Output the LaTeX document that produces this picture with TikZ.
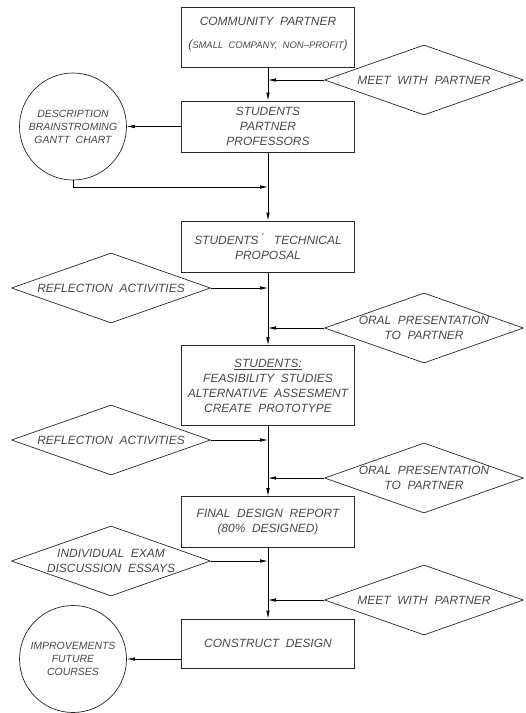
\documentclass[tikz,border=0pt]{standalone}
\usepackage{fontspec}
\setmainfont{Liberation Sans}
\usetikzlibrary{arrows.meta,shapes.geometric}
\begin{document}
\begin{tikzpicture}[x=1bp,y=-1bp,
  txt/.style={font=\itshape\fontsize{12}{15}\selectfont, text=black!72, align=center, inner sep=0pt},
  stxt/.style={font=\itshape\fontsize{10.5}{13}\selectfont, text=black!72, align=center, inner sep=0pt},
  box/.style={draw=black!85, line width=0.7pt, rectangle, minimum width=173bp, inner sep=0pt},
  dia/.style={draw=black!85, line width=0.7pt, diamond, minimum width=199bp, minimum height=70bp, inner sep=0pt},
  circ/.style={draw=black!85, line width=0.7pt, circle, minimum size=107bp, inner sep=0pt},
  ln/.style={draw=black, line width=0.7pt},
  arr/.style={ln, -{Latex[length=8bp,width=3.5bp]}}
]
\useasboundingbox (0,0) rectangle (526,713);
% boxes
\node[box, minimum height=60bp] (b1) at (268,37.5) {};
\node[txt, anchor=center] (b1t) at (268,21) {COMMUNITY\ \ PARTNER};
\node[txt, anchor=center] (b1s) at (268,45) {(\fontsize{9.5}{12}\selectfont SMALL\ \ COMPANY,\ \ NON--PROFIT\fontsize{12}{15}\selectfont)};
\node[box, minimum height=51bp] (b2) at (268,126.5) {};
\node[txt] (b2t) at (b2) {STUDENTS\\PARTNER\\PROFESSORS};
\node[box, minimum height=51bp] (b3) at (268,246.5) {};
\node[txt] (b3t) at (b3) {STUDENTS\,\'{}\ \ \ TECHNICAL\\PROPOSAL};
\node[box, minimum height=80bp] (b4) at (268,385.5) {};
\node[txt] (b4t) at (b4) {\underline{STUDENTS:}\\FEASIBILITY\ \ STUDIES\\ALTERNATIVE\ \ ASSESMENT\\CREATE\ \ PROTOTYPE};
\node[box, minimum height=51bp] (b5) at (268,522) {};
\node[txt] (b5t) at (b5) {FINAL\ \ DESIGN\ \ REPORT\\(80\%\ \ DESIGNED)};
\node[box, minimum height=49bp] (b6) at (268,643.5) {};
\node[txt] (b6t) at (b6) {CONSTRUCT\ \ DESIGN};
% diamonds
\node[dia] (m1) at (424,80) {};
\node[txt] (m1t) at (m1) {MEET\ \ WITH\ \ PARTNER};
\node[dia] (r1) at (111,288) {};
\node[txt] (r1t) at (r1) {REFLECTION\ \ ACTIVITIES};
\node[dia] (o1) at (424,328) {};
\node[txt] (o1t) at (o1) {ORAL\ \ PRESENTATION\\TO\ \ PARTNER};
\node[dia] (r2) at (111,440) {};
\node[txt] (r2t) at (r2) {REFLECTION\ \ ACTIVITIES};
\node[dia] (o2) at (424,478) {};
\node[txt] (o2t) at (o2) {ORAL\ \ PRESENTATION\\TO\ \ PARTNER};
\node[dia] (i1) at (111,561) {};
\node[txt] (i1t) at (i1) {INDIVIDUAL\ \ EXAM\\DISCUSSION\ \ ESSAYS};
\node[dia] (m2) at (424,600) {};
\node[txt] (m2t) at (m2) {MEET\ \ WITH\ \ PARTNER};
% circles
\node[circ] (c1) at (73,126.5) {};
\node[stxt] (c1t) at (c1) {DESCRIPTION\\BRAINSTROMING\\GANTT\ \ CHART};
\node[circ] (c2) at (73,659) {};
\node[stxt] (c2t) at (c2) {IMPROVEMENTS\\FUTURE\\COURSES};
% axis coordinates
\coordinate (a1) at (268,80);
\coordinate (a2) at (268,187);
\coordinate (a3) at (268,288);
\coordinate (a4) at (268,328);
\coordinate (a5) at (268,440);
\coordinate (a6) at (268,478);
\coordinate (a7) at (268,561);
\coordinate (a8) at (268,600);
% main flow
\draw[arr] (b1.south) -- (b2.north);
\draw[arr] (b2.south) -- (b3.north);
\draw[arr] (b3.south) -- (b4.north);
\draw[arr] (b4.south) -- (b5.north);
\draw[arr] (b5.south) -- (b6.north);
% side inputs
\draw[arr] (m1.west) -- (a1);
\draw[arr] (b2.west) -- (c1.east);
\draw[arr] (c1.south) |- (a2);
\draw[arr] (r1.east) -- (a3);
\draw[arr] (o1.west) -- (a4);
\draw[arr] (r2.east) -- (a5);
\draw[arr] (o2.west) -- (a6);
\draw[arr] (i1.east) -- (a7);
\draw[arr] (m2.west) -- (a8);
\draw[arr] (b6.west |- c2.east) -- (c2.east);
\end{tikzpicture}
\end{document}
